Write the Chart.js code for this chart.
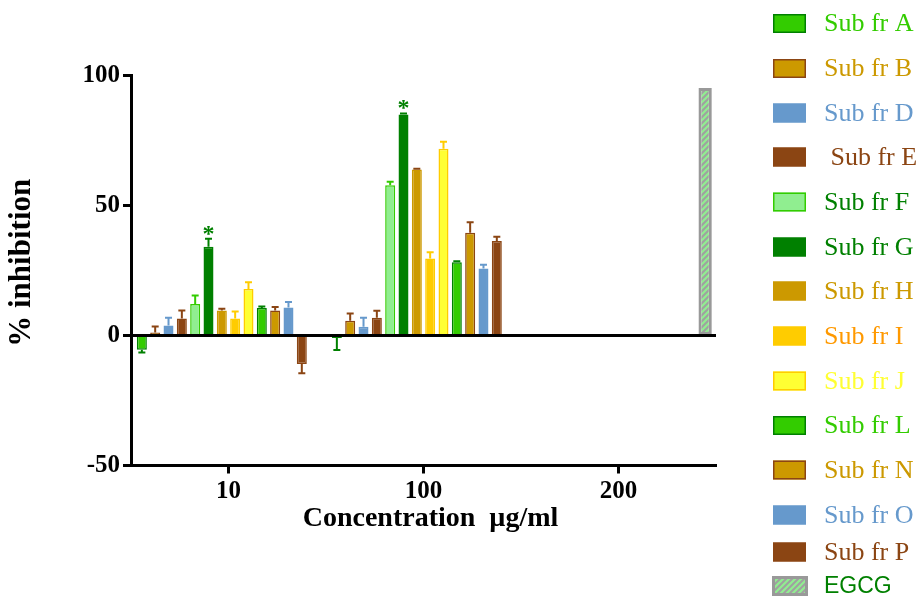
<!DOCTYPE html>
<html>
<head>
<meta charset="utf-8">
<script src="https://cdn.jsdelivr.net/npm/chart.js@4.4.1/dist/chart.umd.min.js"></script>
<style>
  html, body { margin: 0; padding: 0; background: #fff; }
  #wrap { width: 919px; height: 596px; }
</style>
</head>
<body>
<div id="wrap"><canvas id="inhibChart"></canvas></div>
<script>
const concLabels = ['10', '100', '200'];
const fractions = ['Sub fr A', 'Sub fr B', 'Sub fr D', ' Sub fr E', 'Sub fr F', 'Sub fr G', 'Sub fr H',
                   'Sub fr I', 'Sub fr J', 'Sub fr L', 'Sub fr N', 'Sub fr O', 'Sub fr P'];
// % inhibition at 10 and 100 ug/ml, one entry per fraction
const val10  = [-5.5, 1.2, 3.8, 6.5, 12.1, 34.1, 9.6, 6.5, 17.9, 10.6, 9.6, 10.8, -11.0];
const err10  = [1.0, 2.3, 3.0, 3.1, 3.3, 3.1, 0.7, 2.7, 2.6, 0.6, 1.4, 2.1, 3.5];
const val100 = [-1.0, 5.7, 3.4, 6.8, 57.8, 85.0, 63.8, 29.6, 71.8, 28.2, 39.5, 25.8, 36.3];
const err100 = [4.6, 2.8, 3.4, 2.7, 1.3, 0.4, 0.3, 2.4, 2.7, 0.4, 4.1, 1.4, 1.7];
const egcgLabel = 'EGCG';
const egcgValues = [null, null, 95.2];
const starredFraction = 'Sub fr G';

// styles
const fills   = ['#33CC00', '#CC9900', '#6699CC', '#8B4513', '#90EE90', '#008000', '#CC9900',
                 '#FFCC00', '#FFFF33', '#33CC00', '#CC9900', '#6699CC', '#8B4513'];
const borders = ['#008000', '#8B4513', '#6699CC', '#8B4513', '#33CC00', '#008000', '#CC9900',
                 '#FFCC00', '#FFCC00', '#008000', '#8B4513', '#6699CC', '#8B4513'];
const errCols = ['#008000', '#8B4513', '#6699CC', '#8B4513', '#33CC00', '#008000', '#8B4513',
                 '#FFCC00', '#FFCC00', '#008000', '#8B4513', '#6699CC', '#8B4513'];
const textCols = ['#33CC00', '#CC9900', '#6699CC', '#8B4513', '#008000', '#008000', '#CC9900',
                  '#FF9900', '#FFFF33', '#33CC00', '#CC9900', '#6699CC', '#8B4513', '#008000'];
const legendRows = [23.5, 68.5, 113, 157, 202, 247, 291, 336, 381, 425.5, 470, 515, 552, 586];

const SERIF = "'Liberation Serif', 'Times New Roman', serif";
Chart.defaults.font.family = SERIF;

// hatched fill for EGCG
function makeHatch() {
    const c = document.createElement('canvas');
    c.width = 6; c.height = 6;
    const g = c.getContext('2d');
    g.fillStyle = '#A0A0A0';
    g.fillRect(0, 0, 6, 6);
    g.strokeStyle = '#90EE90';
    g.lineWidth = 2.2;
    g.beginPath();
    g.moveTo(0, 6); g.lineTo(6, 0);
    g.moveTo(-3, 3); g.lineTo(3, -3);
    g.moveTo(3, 9); g.lineTo(9, 3);
    g.stroke();
    return g.createPattern(c, 'repeat');
}
const hatch = makeHatch();

const datasets = fractions.map((name, i) => ({
    label: name,
    data: [val10[i], val100[i], null],
    errors: [err10[i], err100[i], null],
    errorColor: errCols[i],
    textColor: textCols[i],
    backgroundColor: fills[i],
    borderColor: borders[i],
    borderWidth: 1.5,
    barPercentage: 0.75,
    categoryPercentage: 0.957
}));
datasets.push({
    label: egcgLabel,
    data: egcgValues,
    textColor: textCols[13],
    backgroundColor: hatch,
    borderColor: '#999999',
    borderWidth: 3,
    borderSkipped: false,
    barPercentage: 1.0,
    categoryPercentage: 0.957
});

const extras = {
    id: 'extras',
    afterDatasetsDraw(chart) {
        const {ctx, chartArea, scales: {y}} = chart;
        ctx.save();
        // error bars
        chart.data.datasets.forEach((ds, di) => {
            if (!ds.errors) return;
            const meta = chart.getDatasetMeta(di);
            meta.data.forEach((bar, i) => {
                const v = ds.data[i], e = ds.errors[i];
                if (v == null || !e) return;
                const dir = v < 0 ? -1 : 1;
                const y0 = y.getPixelForValue(v);
                const y1 = y.getPixelForValue(v + dir * e);
                ctx.strokeStyle = ds.errorColor;
                ctx.lineWidth = 2;
                ctx.beginPath();
                ctx.moveTo(bar.x, y0); ctx.lineTo(bar.x, y1);
                ctx.moveTo(bar.x - 3.5, y1); ctx.lineTo(bar.x + 3.5, y1);
                ctx.stroke();
            });
        });
        // zero line
        const y0 = y.getPixelForValue(0);
        ctx.strokeStyle = '#000';
        ctx.lineWidth = 3;
        ctx.beginPath();
        ctx.moveTo(chartArea.left, y0); ctx.lineTo(chartArea.right, y0);
        ctx.stroke();
        // significance stars
        chart.data.datasets.forEach((ds, di) => {
            if (ds.label !== starredFraction) return;
            const meta = chart.getDatasetMeta(di);
            meta.data.forEach((bar, i) => {
                const v = ds.data[i];
                if (v == null) return;
                const top = y.getPixelForValue(v + (ds.errors[i] || 0));
                ctx.fillStyle = '#008000';
                ctx.font = 'bold 24px ' + SERIF;
                ctx.textAlign = 'center';
                ctx.textBaseline = 'alphabetic';
                ctx.fillText('*', bar.x, top + 2);
            });
        });
        ctx.restore();
    },
    afterDraw(chart) {
        // legend down the right side
        const {ctx} = chart;
        ctx.save();
        chart.data.datasets.forEach((ds, i) => {
            const cy = legendRows[i];
            const isEgcg = ds.label === egcgLabel;
            const bx = isEgcg ? 772 : 773, bw = isEgcg ? 36 : 33, bh = isEgcg ? 20 : 19;
            ctx.fillStyle = ds.backgroundColor;
            ctx.fillRect(bx, cy - bh / 2, bw, bh);
            ctx.strokeStyle = ds.borderColor;
            ctx.lineWidth = isEgcg ? 3 : 1.5;
            const inset = ctx.lineWidth / 2;
            ctx.strokeRect(bx + inset, cy - bh / 2 + inset, bw - 2 * inset, bh - 2 * inset);
            ctx.fillStyle = ds.textColor;
            ctx.font = isEgcg ? "23px 'Liberation Sans', Arial, sans-serif" : '26px ' + SERIF;
            ctx.textAlign = 'left';
            ctx.textBaseline = 'middle';
            ctx.fillText(ds.label, 824, cy + 1);
        });
        ctx.restore();
    }
};

new Chart(document.getElementById('inhibChart'), {
    type: 'bar',
    data: { labels: concLabels, datasets },
    options: {
        responsive: true,
        maintainAspectRatio: false,
        animation: false,
        devicePixelRatio: 1,
        layout: { padding: { top: 75.5, right: 203, bottom: 58, left: 0 } },
        plugins: {
            legend: { display: false },
            tooltip: { enabled: false }
        },
        scales: {
            x: {
                offset: true,
                grid: {
                    offset: false,
                    drawOnChartArea: false,
                    drawTicks: true,
                    tickLength: 8,
                    tickColor: '#000',
                    tickWidth: 3
                },
                border: { display: true, color: '#000', width: 3 },
                ticks: {
                    color: '#000',
                    padding: 3,
                    font: { size: 25, weight: 'bold', family: SERIF }
                },
                title: {
                    display: true,
                    text: '  Concentration  \u00b5g/ml',
                    color: '#000',
                    padding: { top: 0, bottom: 2 },
                    font: { size: 28, weight: 'bold', family: SERIF }
                },
                afterFit(scale) { scale.height = 596 - 58 - 465.5; }
            },
            y: {
                min: -50,
                max: 100,
                ticks: {
                    stepSize: 50,
                    color: '#000',
                    padding: 3,
                    font: { size: 25, weight: 'bold', family: SERIF }
                },
                grid: {
                    drawOnChartArea: false,
                    drawTicks: true,
                    tickLength: 8,
                    tickColor: '#000',
                    tickWidth: 3
                },
                border: { display: true, color: '#000', width: 3 },
                title: {
                    display: true,
                    text: '  % inhibition',
                    color: '#000',
                    padding: { top: 3, bottom: 0 },
                    font: { size: 31, weight: 'bold', family: SERIF }
                },
                afterFit(scale) { scale.width = 131; }
            }
        }
    },
    plugins: [extras]
});
</script>
</body>
</html>
